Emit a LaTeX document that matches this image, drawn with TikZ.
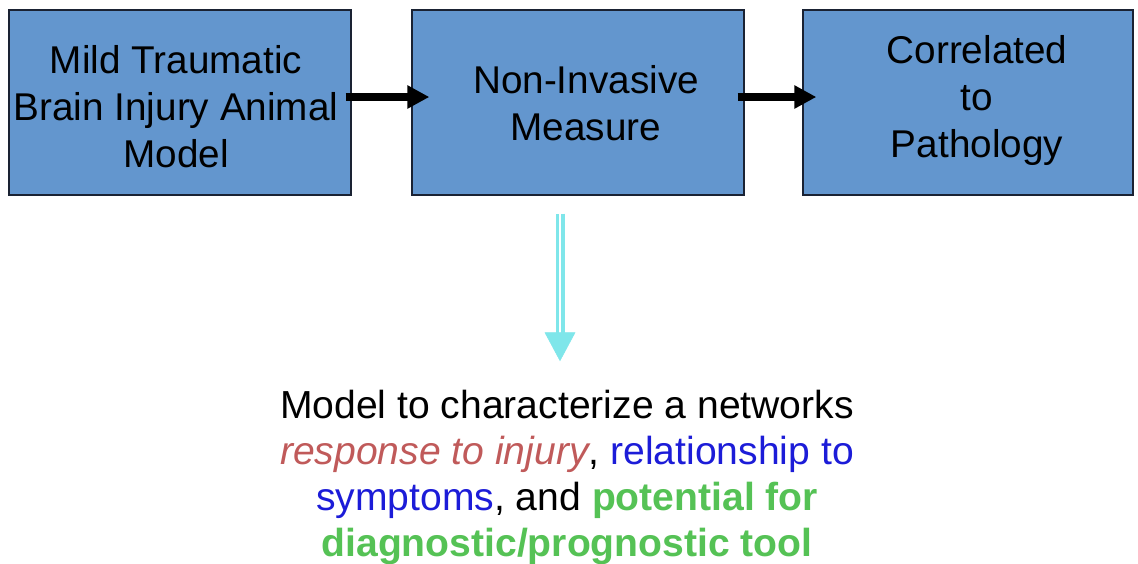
\documentclass[tikz,border=0pt]{standalone}
\usepackage{fontspec}
\setmainfont{Liberation Sans}
\usetikzlibrary{arrows.meta}
\definecolor{boxblue}{HTML}{6396CE}
\definecolor{boxline}{HTML}{1A2233}
\definecolor{cyanarr}{HTML}{7FE6EA}
\definecolor{redtxt}{HTML}{C05A5A}
\definecolor{bluetxt}{HTML}{1C1CD8}
\definecolor{greentxt}{HTML}{55C255}
\tikzset{
  flowbox/.style={draw=boxline, line width=1.3pt, fill=boxblue, inner sep=0pt},
  boxtext/.style={align=center, inner sep=0pt, font=\fontsize{38.7}{47}\selectfont},
  blackarrow/.style={line width=8.5pt, -{Triangle[length=22pt,width=22pt]}},
  cyanshaft/.style={draw=cyanarr, double=white, line width=3.5pt, double distance=2pt},
  cyanhead/.style={draw=cyanarr, line width=0.5pt, fill=cyanarr},
  bottomtext/.style={align=center, inner sep=0pt, font=\fontsize{39.1}{46}\selectfont}
}
\begin{document}
\begin{tikzpicture}[x=1pt,y=1pt]
\useasboundingbox[fill=white] (0,0) rectangle (1138,-563);
% boxes
\node[flowbox, minimum width=342pt, minimum height=185pt] (b1) at (180,-102.5) {};
\node[flowbox, minimum width=332pt, minimum height=185pt] (b2) at (578,-102.5) {};
\node[flowbox, minimum width=330pt, minimum height=185pt] (b3) at (968,-102.5) {};
% box texts
\node[boxtext] (t1) at (b1.center) [xshift=-4pt,yshift=-4.5pt] {Mild Traumatic\\Brain Injury Animal\\Model};
\node[boxtext] (t2) at (b2.center) [xshift=8pt,yshift=-1pt] {Non-Invasive\\Measure};
\node[boxtext] (t3) at (b3.center) [xshift=9pt,yshift=2pt] {Correlated\\to\\Pathology};
% black arrows
\draw[blackarrow] ([xshift=-6pt,yshift=5.5pt]b1.east) -- ([xshift=18pt,yshift=5.5pt]b2.west);
\draw[blackarrow] ([xshift=-7pt,yshift=5.5pt]b2.east) -- ([xshift=14pt,yshift=5.5pt]b3.west);
% cyan arrow
\coordinate (ctop) at ([xshift=-18pt,yshift=-18pt]b2.south);
\coordinate (cbase) at ([yshift=-119pt]ctop);
\coordinate (ctip) at ([yshift=-28pt]cbase);
\draw[cyanshaft] (ctop) -- ([yshift=-1pt]cbase);
\draw[cyanhead] ([xshift=-15pt]cbase) -- ([xshift=15pt]cbase) -- (ctip) -- cycle;
% bottom text
\node[bottomtext] (msg) at (567,-477) {Model to characterize a networks\\
\textcolor{redtxt}{\itshape response to injury}, \textcolor{bluetxt}{relationship to}\\
\textcolor{bluetxt}{symptoms}, and \textcolor{greentxt}{\bfseries potential for}\\
\textcolor{greentxt}{\bfseries diagnostic/prognostic tool}};
\end{tikzpicture}
\end{document}
